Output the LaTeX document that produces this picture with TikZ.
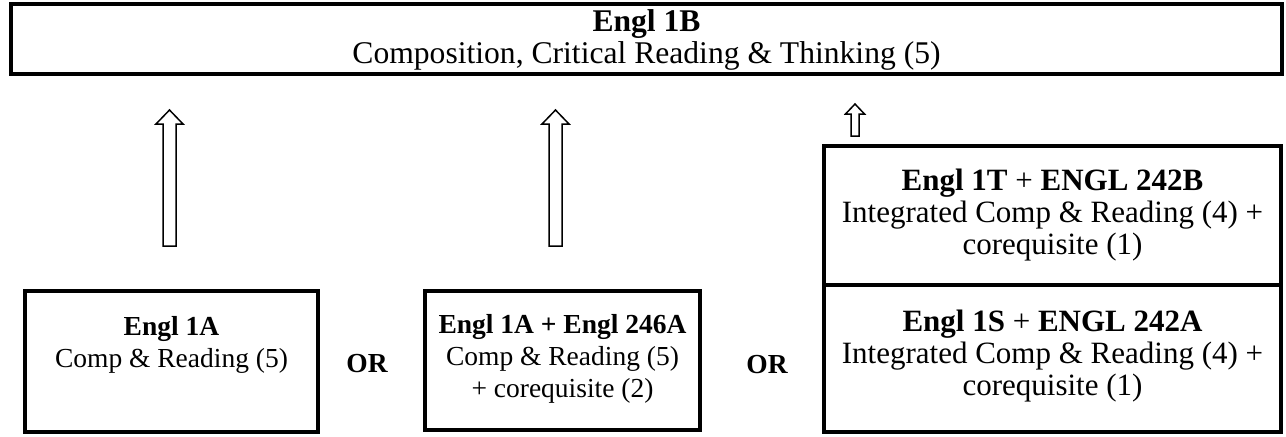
\documentclass[tikz,border=0pt]{standalone}
\usepackage{fontspec}
\setmainfont{Liberation Serif}
\begin{document}
\begin{tikzpicture}[x=0.5pt,y=-0.5pt,
  box/.style={draw, line width=2pt, inner sep=0pt},
  txt/.style={anchor=base, inner sep=0pt, font=\fontsize{13.75}{16}\selectfont},
  btxt/.style={anchor=base, inner sep=0pt, font=\fontsize{13.75}{16}\selectfont\bfseries},
  toptxt/.style={anchor=base, inner sep=0pt, font=\fontsize{15.8}{18}\selectfont},
  rtxt/.style={anchor=base, inner sep=0pt, font=\fontsize{15.5}{18}\selectfont},
  blockarrow/.style={draw, line width=0.75pt, fill=white, line join=miter}]
\useasboundingbox (0,0) rectangle (1286,436);
% boxes
\node[box, minimum width=635.5pt, minimum height=35pt] (top) at (646.5,39) {};
\node[box, minimum width=146.5pt, minimum height=70.5pt] (b1) at (171.5,361.5) {};
\node[box, minimum width=137.5pt, minimum height=69.5pt] (b2) at (562.5,360.5) {};
\node[box, minimum width=228.5pt, minimum height=69.5pt] (rup) at (1052.5,215.5) {};
\node[box, minimum width=228.5pt, minimum height=73.5pt] (rlo) at (1052.5,358.5) {};
% texts
\node[toptxt, font=\fontsize{15.8}{18}\selectfont\bfseries] (t1) at (646.5,31) {Engl 1B};
\node[toptxt] (t2) at (646.5,63) {Composition, Critical Reading \& Thinking (5)};
\node[btxt] (a1) at (171.5,335) {Engl 1A};
\node[txt] (a2) at (171.5,367) {Comp \& Reading (5)};
\node[btxt] (c1) at (562.5,333) {Engl 1A + Engl 246A};
\node[txt] (c2) at (562.5,365) {Comp \& Reading (5)};
\node[txt] (c3) at (562.5,397) {+ corequisite (2)};
\node[rtxt] (u1) at (1052.5,190) {\textbf{Engl 1T} + \textbf{ENGL 242B}};
\node[rtxt] (u2) at (1052.5,222) {Integrated Comp \& Reading (4) +};
\node[rtxt] (u3) at (1052.5,254) {corequisite (1)};
\node[rtxt] (l1) at (1052.5,331) {\textbf{Engl 1S} + \textbf{ENGL 242A}};
\node[rtxt] (l2) at (1052.5,363) {Integrated Comp \& Reading (4) +};
\node[rtxt] (l3) at (1052.5,395) {corequisite (1)};
\node[btxt] (or1) at (367,372) {OR};
\node[btxt] (or2) at (767,373) {OR};
% block arrows
\draw[blockarrow] (163,246) -- (176,246) -- (176,124) -- (183,124) -- (169.5,110) -- (156,124) -- (163,124) -- cycle;
\draw[blockarrow] (549,246) -- (562,246) -- (562,124) -- (569,124) -- (555.5,110) -- (542,124) -- (549,124) -- cycle;
\draw[blockarrow] (851,136) -- (859,136) -- (859,114) -- (864.5,114) -- (855,104) -- (845.5,114) -- (851,114) -- cycle;
\end{tikzpicture}
\end{document}
